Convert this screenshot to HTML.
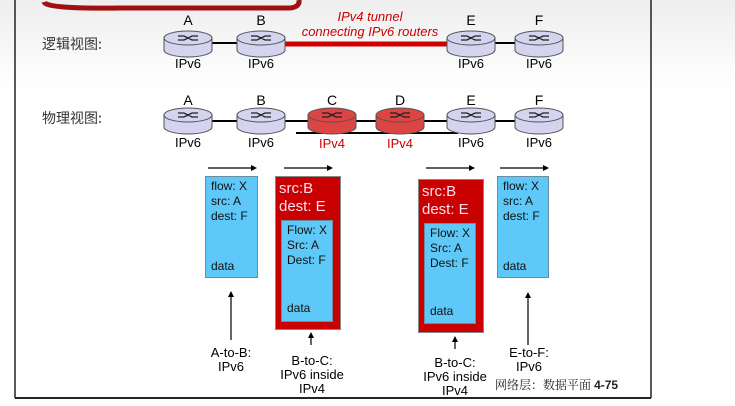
<!DOCTYPE html>
<html><head><style>
body{margin:0;width:735px;height:406px;background:#fff;position:relative;overflow:hidden;font-family:"Liberation Sans","Noto Sans CJK SC",sans-serif}
.a{position:absolute}
.t{position:absolute;font-size:13px;text-align:center;width:60px;margin-left:-30px;line-height:14px}
.cn{position:absolute;font-family:"Noto Sans CJK SC",sans-serif;font-size:14px;color:#333}
.pk{position:absolute;background:#5ec8f8;border:1px solid #6a8ea0;box-sizing:border-box;font-size:12px;line-height:15px;padding:2px 5px;color:#111}
.rd{position:absolute;background:#c80000;border:1px solid #888;box-sizing:border-box;color:#fde;font-size:15px;line-height:18px;padding:3px 3px}
.lb{position:absolute;font-size:13px;text-align:center;line-height:14px;width:90px;margin-left:-45px}
</style></head><body>
<div class="a" style="left:0;top:0;width:735px;height:90px;background:linear-gradient(#eee,#fff)"></div>
<svg class="a" style="left:0;top:0" width="735" height="406">
<path d="M44 2 Q46 9 120 8 L290 8 Q300 7 299 0" stroke="#a01010" stroke-width="5" fill="none"/>
<line x1="15" y1="0" x2="15" y2="398" stroke="#222" stroke-width="1.5"/>
<line x1="651" y1="0" x2="651" y2="398" stroke="#222" stroke-width="1.5"/>
<line x1="15" y1="398" x2="651" y2="398" stroke="#222" stroke-width="2"/>
<defs>
<g id="rt"><path d="M-24 -6 v12 a24 7 0 0 0 48 0 v-12" fill="currentColor" stroke="#555"/><ellipse cx="0" cy="-6" rx="24" ry="7" fill="currentColor" stroke="#555"/><path d="M-10 -8 h6 l8 4 h6 M-10 -4 h6 l8 -4 h6" stroke="#222" fill="none" stroke-width="1.3"/></g>
</defs>
<line x1="188" y1="43" x2="261" y2="43" stroke="#000" stroke-width="2"/>
<line x1="261" y1="44" x2="471" y2="44" stroke="#c00" stroke-width="5"/>
<line x1="471" y1="43" x2="539" y2="43" stroke="#000" stroke-width="2"/>
<use href="#rt" x="188" y="44" color="#d4d4f0"/>
<use href="#rt" x="261" y="44" color="#d4d4f0"/>
<use href="#rt" x="471" y="44" color="#d4d4f0"/>
<use href="#rt" x="539" y="44" color="#d4d4f0"/>
<line x1="188" y1="121" x2="539" y2="121" stroke="#000" stroke-width="2"/>
<line x1="296" y1="133" x2="458" y2="133" stroke="#000" stroke-width="2"/>
<use href="#rt" x="188" y="121" color="#d4d4f0"/>
<use href="#rt" x="261" y="121" color="#d4d4f0"/>
<use href="#rt" x="332" y="121" color="#d44"/>
<use href="#rt" x="400" y="121" color="#d44"/>
<use href="#rt" x="471" y="121" color="#d4d4f0"/>
<use href="#rt" x="539" y="121" color="#d4d4f0"/>
<g stroke="#000" stroke-width="1.2">
<line x1="208" y1="168" x2="252" y2="168"/><line x1="284" y1="168" x2="328" y2="168"/>
<line x1="426" y1="168" x2="470" y2="168"/><line x1="500" y1="168" x2="544" y2="168"/>
<line x1="231" y1="296" x2="231" y2="340"/><line x1="311" y1="337" x2="311" y2="345"/>
<line x1="455" y1="341" x2="455" y2="349"/><line x1="528" y1="297" x2="528" y2="345"/>
</g>
<g fill="#000">
<path d="M257 168 l-6 -3 v6z"/><path d="M333 168 l-6 -3 v6z"/><path d="M475 168 l-6 -3 v6z"/><path d="M549 168 l-6 -3 v6z"/>
<path d="M231 291 l-3 6 h6z"/><path d="M311 332 l-3 6 h6z"/><path d="M455 336 l-3 6 h6z"/><path d="M528 292 l-3 6 h6z"/>
</g>
</svg>
<div class="cn" style="left:42px;top:34px">逻辑视图:</div>
<div class="cn" style="left:42px;top:108px">物理视图:</div>
<div class="a" style="left:290px;top:9px;width:160px;text-align:center;color:#c00;font-style:italic;font-size:13px;line-height:15px">IPv4 tunnel<br>connecting IPv6 routers</div>
<div class="t" style="left:188px;top:13px;font-size:14px">A</div><div class="t" style="left:261px;top:13px;font-size:14px">B</div>
<div class="t" style="left:471px;top:13px;font-size:14px">E</div><div class="t" style="left:539px;top:13px;font-size:14px">F</div>
<div class="t" style="left:188px;top:57px">IPv6</div><div class="t" style="left:261px;top:57px">IPv6</div>
<div class="t" style="left:471px;top:57px">IPv6</div><div class="t" style="left:539px;top:57px">IPv6</div>
<div class="t" style="left:188px;top:93px;font-size:14px">A</div><div class="t" style="left:261px;top:93px;font-size:14px">B</div>
<div class="t" style="left:332px;top:93px;font-size:14px">C</div><div class="t" style="left:400px;top:93px;font-size:14px">D</div>
<div class="t" style="left:471px;top:93px;font-size:14px">E</div><div class="t" style="left:539px;top:93px;font-size:14px">F</div>
<div class="t" style="left:188px;top:136px">IPv6</div><div class="t" style="left:261px;top:136px">IPv6</div>
<div class="t" style="left:332px;top:137px;color:#c00">IPv4</div><div class="t" style="left:400px;top:137px;color:#c00">IPv4</div>
<div class="t" style="left:471px;top:136px">IPv6</div><div class="t" style="left:539px;top:136px">IPv6</div>

<div class="pk" style="left:205px;top:176px;width:53px;height:102px">flow: X<br>src: A<br>dest: F<div class="a" style="left:5px;top:82px">data</div></div>
<div class="pk" style="left:497px;top:176px;width:52px;height:102px">flow: X<br>src: A<br>dest: F<div class="a" style="left:5px;top:82px">data</div></div>
<div class="rd" style="left:275px;top:176px;width:66px;height:154px">src:B<br>dest: E
<div class="pk" style="left:5px;top:43px;width:52px;height:102px;font-size:12px;line-height:15px">Flow: X<br>Src: A<br>Dest: F<div class="a" style="left:5px;top:80px">data</div></div></div>
<div class="rd" style="left:418px;top:179px;width:66px;height:154px">src:B<br>dest: E
<div class="pk" style="left:5px;top:43px;width:52px;height:101px;font-size:12px;line-height:15px">Flow: X<br>Src: A<br>Dest: F<div class="a" style="left:5px;top:80px">data</div></div></div>

<div class="lb" style="left:231px;top:346px">A-to-B:<br>IPv6</div>
<div class="lb" style="left:312px;top:354px">B-to-C:<br>IPv6 inside<br>IPv4</div>
<div class="lb" style="left:455px;top:356px">B-to-C:<br>IPv6 inside<br>IPv4</div>
<div class="lb" style="left:529px;top:346px">E-to-F:<br>IPv6</div>
<div class="a" style="left:495px;top:376px;font-size:12px;font-family:'Noto Serif CJK SC',serif;color:#222">网络层：数据平面 <b style="font-family:'Liberation Sans',sans-serif">4-75</b></div>
</body></html>
